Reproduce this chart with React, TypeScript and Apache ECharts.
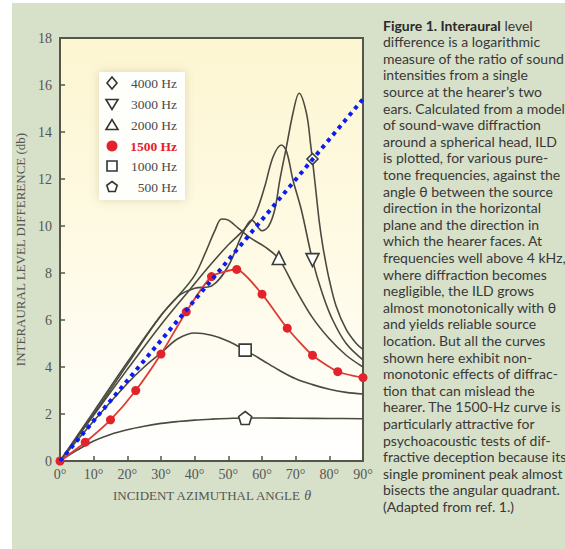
import React, { useEffect, useRef } from 'react';
import * as echarts from 'echarts';

// ---- data (angle in degrees, ILD in dB) ----
const hz500: number[][] = [[0,0],[5,0.45],[10,0.85],[15,1.13],[20,1.33],[25,1.48],[30,1.6],[35,1.68],[40,1.74],[45,1.78],[50,1.81],[55,1.83],[60,1.83],[70,1.82],[80,1.81],[90,1.8]];
const hz1000: number[][] = [[0,0],[10,1.7],[20,3.3],[25,4.0],[30,4.6],[35,5.2],[40,5.45],[45,5.35],[50,5.1],[55,4.72],[60,4.3],[65,3.87],[70,3.5],[75,3.25],[80,3.05],[85,2.92],[90,2.85]];
const hz1500: number[][] = [[0,0],[7.5,0.8],[15,1.75],[22.5,3.0],[30,4.55],[37.5,6.35],[45,7.85],[52.5,8.15],[60,7.1],[67.5,5.65],[75,4.5],[82.5,3.8],[90,3.55]];
const hz2000: number[][] = [[0,0],[10,2.1],[20,4.2],[30,6.2],[35,7.0],[40,7.9],[43,8.8],[46,9.8],[48,10.3],[50,10.25],[53,9.9],[57,9.45],[61,9.1],[65,8.6],[70,7.3],[75,6.1],[80,5.2],[85,4.5],[90,4.0]];
const hz3000: number[][] = [[0,0],[10,1.95],[20,3.9],[30,5.8],[38.6,7.3],[45,8.4],[50,9.2],[55,9.9],[58,10.5],[60.8,11.67],[63.3,12.95],[65.8,13.45],[67.3,13.17],[69.2,11.96],[71.7,10.68],[75,8.55],[78,7.1],[81,6.0],[85,5.0],[90,4.3]];
const hz4000: number[][] = [[0,0],[10,2.0],[20,4.1],[28,5.8],[35,7.0],[40,7.35],[45,7.45],[50,8.3],[54,9.6],[57,10.25],[60,9.8],[62,10.0],[63.8,10.7],[65.3,11.96],[67.3,13.4],[69.2,14.8],[71,15.65],[73.2,14.8],[74.5,13.4],[75,12.8],[76,11.5],[77,10.2],[78,9.2],[79,8.4],[80,7.7],[82,6.6],[85,5.6],[88,5.0],[90,4.75]];
const bisector: number[][] = [[0,0],[90,15.4]];

const marker500 = [55, 1.83];
const marker1000 = [55, 4.72];
const marker2000 = [65, 8.64];
const marker3000 = [75, 8.55];
const marker4000 = [75, 12.85];

const xTicks = [0, 10, 20, 30, 40, 50, 60, 70, 80, 90];
const legendLabels = ['4000 Hz', '3000 Hz', '2000 Hz', '1500 Hz', '1000 Hz', '500 Hz'];

const captionLines = [
  'difference is a logarithmic',
  'measure of the ratio of sound',
  'intensities from a single',
  'source at the hearer\u2019s two',
  'ears. Calculated from a model',
  'of sound-wave diffraction',
  'around a spherical head, ILD',
  'is plotted, for various pure-',
  'tone frequencies, against the',
  'angle \u03b8 between the source',
  'direction in the horizontal',
  'plane and the direction in',
  'which the hearer faces. At',
  'frequencies well above 4 kHz,',
  'where diffraction becomes',
  'negligible, the ILD grows',
  'almost monotonically with \u03b8',
  'and yields reliable source',
  'location. But all the curves',
  'shown here exhibit non-',
  'monotonic effects of diffrac-',
  'tion that can mislead the',
  'hearer. The 1500-Hz curve is',
  'particularly attractive for',
  'psychoacoustic tests of dif-',
  'fractive deception because its',
  'single prominent peak almost',
  'bisects the angular quadrant.',
  '(Adapted from ref. 1.)',
];

const INK = '#4a4a40';
const RED = '#e3232b';
const SERIF = '"Liberation Serif", "DejaVu Serif", serif';
const SANS = 'Lato, "Open Sans", sans-serif';

const pentagon = 'path://M0,-10 L9.5,-3.1 L5.9,8.1 L-5.9,8.1 L-9.5,-3.1 Z';
const triDown = 'path://M-8,-6 L8,-6 L0,8 Z';

function blackLine(name: string, data: number[][]) {
  return {
    name, type: 'line', data, smooth: 0.35, showSymbol: false, symbol: 'none',
    lineStyle: { color: INK, width: 1.6 }, z: 3,
  };
}
function marker(name: string, pt: number[], symbol: string, size: number) {
  return {
    name, type: 'scatter', data: [pt], symbol, symbolSize: size, z: 6,
    itemStyle: { color: '#ffffff', borderColor: '#3a3a36', borderWidth: 1.6, opacity: 1 },
  };
}

export default function App() {
  const ref = useRef<HTMLDivElement>(null);
  useEffect(() => {
    document.body.style.margin = '0';
    const chart = echarts.init(ref.current!, null, { renderer: 'svg' });

    const lx = 112, tx = 177;
    const ly = [83, 104, 125, 146, 166, 187];
    const legendGraphics: any[] = [
      { type: 'rect', shape: { x: 99, y: 72, width: 86, height: 128 }, style: { fill: '#fefefb', shadowBlur: 10, shadowColor: 'rgba(120,110,60,0.25)' }, z: 10 },
      { type: 'polygon', shape: { points: [[lx, ly[0]-6],[lx+5, ly[0]],[lx, ly[0]+6],[lx-5, ly[0]]] }, style: { fill: '#fff', stroke: '#333', lineWidth: 1.6 }, z: 11 },
      { type: 'polygon', shape: { points: [[lx-6, ly[1]-4.5],[lx+6, ly[1]-4.5],[lx, ly[1]+5.5]] }, style: { fill: '#fff', stroke: '#333', lineWidth: 1.6 }, z: 11 },
      { type: 'polygon', shape: { points: [[lx-6, ly[2]+4.5],[lx+6, ly[2]+4.5],[lx, ly[2]-5.5]] }, style: { fill: '#fff', stroke: '#333', lineWidth: 1.6 }, z: 11 },
      { type: 'circle', shape: { cx: lx, cy: ly[3], r: 5.5 }, style: { fill: RED }, z: 11 },
      { type: 'rect', shape: { x: lx-5, y: ly[4]-5, width: 10, height: 10 }, style: { fill: '#fff', stroke: '#333', lineWidth: 1.6 }, z: 11 },
      { type: 'polygon', shape: { points: [[lx, ly[5]-5.5],[lx+5.2, ly[5]-1.7],[lx+3.2, ly[5]+4.5],[lx-3.2, ly[5]+4.5],[lx-5.2, ly[5]-1.7]] }, style: { fill: '#fff', stroke: '#333', lineWidth: 1.6 }, z: 11 },
    ];
    legendLabels.forEach((t, i) => {
      legendGraphics.push({
        type: 'text', x: tx, y: ly[i], z: 11,
        style: { text: t, align: 'right', verticalAlign: 'middle', font: `${i === 3 ? 'bold ' : ''}13.5px ${SERIF}`, fill: i === 3 ? RED : '#4a4a4a' },
      });
    });

    const captionGraphics: any[] = [
      { type: 'text', x: 383, y: 18, z: 11, style: {
        rich: { b: { fontFamily: SANS, fontSize: 14, fontWeight: 'bold', fill: '#2a2a2a' }, n: { fontFamily: SANS, fontSize: 14, fill: '#383838' } },
        text: '{b|Figure 1. Interaural}{n| level}',
      } },
    ];
    captionLines.forEach((t, i) => {
      captionGraphics.push({ type: 'text', x: 383, y: 18 + (i + 1) * 16.6, z: 11, style: { text: t, font: `14px ${SANS}`, fill: '#383838' } });
    });

    chart.setOption({
      animation: false,
      backgroundColor: '#ffffff',
      grid: {
        left: 60, right: 202, top: 38, bottom: 88, show: true,
        borderColor: '#55554a', borderWidth: 2,
        backgroundColor: { type: 'linear', x: 0, y: 0, x2: 0, y2: 1, colorStops: [
          { offset: 0, color: '#fdf6d2' }, { offset: 0.5, color: '#fefae4' }, { offset: 1, color: '#ffffff' } ] },
      },
      xAxis: {
        type: 'value', min: 0, max: 90, interval: 10,
        name: '{n|INCIDENT AZIMUTHAL ANGLE }{i|\u03b8}', nameLocation: 'middle', nameGap: 27,
        nameTextStyle: { rich: { n: { fontFamily: SERIF, fontSize: 13, color: '#555' }, i: { fontFamily: SERIF, fontSize: 14, fontStyle: 'italic', color: '#555' } } },
        axisLine: { show: false },
        axisTick: { show: true, inside: true, length: 5, lineStyle: { color: '#55554a', width: 1.5 } },
        splitLine: { show: false },
        axisLabel: { formatter: (v: number) => (xTicks.includes(v) ? `${v}\u00b0` : ''), fontFamily: SERIF, fontSize: 14, color: '#555', margin: 6 },
      },
      yAxis: {
        type: 'value', min: 0, max: 18, interval: 2,
        name: 'INTERAURAL LEVEL DIFFERENCE (db)', nameLocation: 'middle', nameGap: 32, nameRotate: 90,
        nameTextStyle: { fontFamily: SERIF, fontSize: 13, color: '#555' },
        axisLine: { show: false },
        axisTick: { show: true, inside: true, length: 5, lineStyle: { color: '#55554a', width: 1.5 } },
        splitLine: { show: false },
        axisLabel: { fontFamily: SERIF, fontSize: 14, color: '#555', margin: 8 },
      },
      graphic: [
        { type: 'rect', shape: { x: 12, y: 3, width: 553, height: 546 }, style: { fill: '#d7e0c9' }, z: -10, silent: true },
        ...legendGraphics,
        ...captionGraphics,
      ],
      series: [
        blackLine('500 Hz', hz500),
        blackLine('1000 Hz', hz1000),
        blackLine('2000 Hz', hz2000),
        blackLine('3000 Hz', hz3000),
        blackLine('4000 Hz', hz4000),
        {
          name: '1500 Hz', type: 'line', data: hz1500, smooth: 0.2, symbol: 'circle', symbolSize: 9, showSymbol: true,
          lineStyle: { color: '#dd3b36', width: 1.8 }, itemStyle: { color: RED }, z: 5,
        },
        marker('500 Hz marker', marker500, pentagon, 13),
        marker('1000 Hz marker', marker1000, 'rect', 12),
        marker('2000 Hz marker', marker2000, 'triangle', 13),
        marker('3000 Hz marker', marker3000, triDown, 13),
        marker('4000 Hz marker', marker4000, 'diamond', 11),
        {
          name: 'bisector', type: 'line', data: bisector, symbol: 'none', z: 8,
          lineStyle: { color: '#0a1cf5', width: 4, type: [4, 4.5], cap: 'butt' },
        },
      ],
    });
    return () => chart.dispose();
  }, []);
  return <div ref={ref} style={{ width: 565, height: 549, position: 'absolute', left: 0, top: 0 }} />;
}
